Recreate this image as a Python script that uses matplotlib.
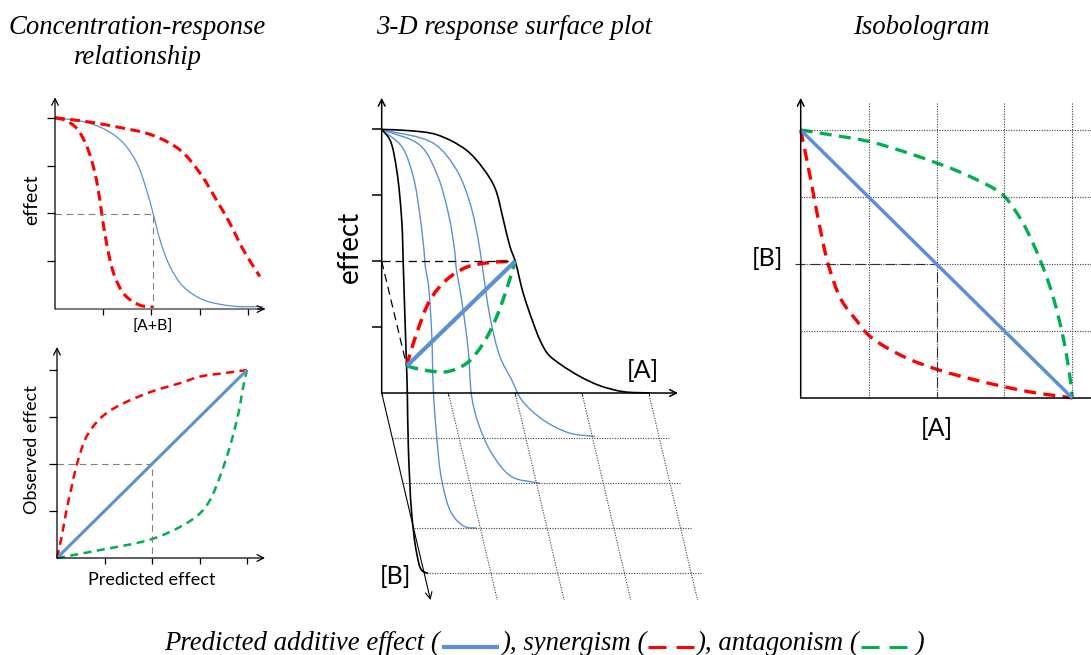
import matplotlib
matplotlib.use("Agg")
import matplotlib.pyplot as plt
from matplotlib.path import Path
from matplotlib.patches import PathPatch
from matplotlib.lines import Line2D
import numpy as np

plt.rcParams["font.family"] = ["Lato", "DejaVu Sans"]

W, H = 1091, 655
BLUE = "#5B8FD8"
RED = "#FF0000"
GREEN = "#00B050"
GUIDE = "#808080"
SERIF = "Liberation Serif"

# --- concentration-response: effect vs [A+B]
cr_ticks = [1, 2, 3, 4]
cr_add_x = [0, 0.59, 1.07, 1.42, 1.70, 1.90, 2.04, 2.18, 2.39, 2.66, 3.08, 3.70, 4.32]
cr_add_y = [4.0, 3.92, 3.74, 3.47, 3.05, 2.49, 1.98, 1.44, 0.88, 0.47, 0.19, 0.06, 0.05]
cr_syn_x = [0, 0.21, 0.45, 0.66, 0.83, 0.93, 1.00, 1.11, 1.24, 1.45, 1.76, 2.04]
cr_syn_y = [4.0, 3.95, 3.78, 3.40, 2.84, 2.28, 1.79, 1.17, 0.68, 0.29, 0.08, 0.04]
cr_ant_x = [0, 0.66, 1.28, 2.01, 2.59, 3.01, 3.35, 3.63, 3.91, 4.25]
cr_ant_y = [4.0, 3.92, 3.81, 3.64, 3.33, 2.84, 2.28, 1.79, 1.23, 0.68]
cr_half = (2.04, 1.98)

# --- observed vs predicted effect
op_ticks = [1, 2, 3, 4]
op_add = [0, 4]
op_syn_x = [0, 0.10, 0.20, 0.31, 0.41, 0.62, 0.91, 1.26, 1.99, 2.59, 3.01, 3.57, 4.0]
op_syn_y = [0, 0.46, 1.02, 1.52, 1.96, 2.58, 2.97, 3.22, 3.54, 3.72, 3.86, 3.94, 4.0]
op_ant_x = [0, 0.91, 1.99, 2.66, 3.01, 3.22, 3.43, 3.64, 3.82, 3.92, 4.0]
op_ant_y = [0, 0.17, 0.40, 0.70, 0.95, 1.23, 1.73, 2.37, 3.08, 3.64, 4.0]
op_half = (2, 2)

# --- response surface, drawn on the sheared [A]-effect plane
rs_effect_ticks = [1, 2, 3, 4]
rs_a_ticks = [0, 1, 2, 3, 4]
rs_b_ticks = [1, 2, 3, 4]
rs_b_max = 4.6
rs_shear = 0.159   # sideways shift per unit of [B]
rs_drop = 0.683    # downward shift per unit of [B]
rs_curve_a_x = [0, 0.424, 0.824, 1.263, 1.518, 1.697, 1.822, 1.922, 2.0, 2.121, 2.271,
                2.372, 2.491, 2.671, 2.971, 3.271, 3.62, 4.02]
rs_curve_a_y = [4.0, 3.98, 3.92, 3.69, 3.41, 3.11, 2.63, 2.22, 2.0, 1.51, 1.06,
                0.80, 0.59, 0.44, 0.25, 0.11, 0.02, 0.0]
rs_curve_b_x = [0, 0.124, 0.225, 0.30, 0.324, 0.349, 0.372, 0.384, 0.399, 0.449, 0.524, 0.599, 0.698]
rs_curve_b_y = [4.0, 3.84, 3.38, 2.62, 1.92, 1.11, 0.42, 0.0, -0.815, -1.826, -2.43, -2.69, -2.74]
rs_mix1_x = [0, 0.30, 0.473, 0.574, 0.638, 0.653, 0.698, 0.749, 0.773, 0.824, 0.899, 1.049, 1.248, 1.423]
rs_mix1_y = [4.0, 3.74, 3.28, 2.68, 2.12, 1.92, 1.66, 0.906, 0.046, -0.663, -1.32, -1.83, -2.03, -2.05]
rs_mix2_x = [0, 0.574, 0.824, 0.998, 1.098, 1.113, 1.198, 1.297, 1.348, 1.447, 1.648, 1.948, 2.372]
rs_mix2_y = [4.0, 3.76, 3.33, 2.73, 2.12, 1.92, 1.41, 0.65, -0.056, -0.46, -0.915, -1.27, -1.37]
rs_mix3_x = [0, 0.773, 1.124, 1.323, 1.447, 1.507, 1.622, 1.772, 1.948, 2.097, 2.421, 2.821, 3.196]
rs_mix3_y = [4.0, 3.79, 3.38, 2.88, 2.32, 1.92, 1.16, 0.55, 0.197, -0.106, -0.41, -0.61, -0.66]
rs_level = 2.0
rs_iso_add_x = [0.375, 2.0]
rs_iso_add_y = [0.41, 2.0]
rs_iso_syn_x = [0.375, 0.398, 0.524, 0.724, 0.974, 1.273, 1.622, 2.0]
rs_iso_syn_y = [0.41, 0.50, 0.906, 1.41, 1.72, 1.91, 1.98, 2.0]
rs_iso_ant_x = [0.375, 0.623, 0.974, 1.273, 1.522, 1.723, 1.873, 2.0]
rs_iso_ant_y = [0.41, 0.35, 0.323, 0.451, 0.754, 1.158, 1.58, 2.0]

# --- isobologram: [B] vs [A]
iso_ticks = [1, 2, 3, 4]
iso_add_a = [0, 4]
iso_add_b = [4, 0]
iso_syn_a = [0, 0.14, 0.26, 0.41, 0.60, 0.82, 1.02, 1.51, 2.03, 2.69, 3.38, 3.94, 4.0]
iso_syn_b = [4, 3.30, 2.66, 1.98, 1.46, 1.16, 0.92, 0.62, 0.42, 0.24, 0.09, 0.01, 0]
iso_ant_a = [0, 0.43, 1.00, 1.66, 2.35, 2.89, 3.01, 3.28, 3.55, 3.72, 3.87, 3.97, 4.0]
iso_ant_b = [4, 3.93, 3.83, 3.63, 3.37, 3.10, 3.00, 2.60, 2.00, 1.50, 0.88, 0.28, 0]
iso_half = (2, 2)


def panel(x0, x1, y0, y1, ox, oy, sx, sy):
    """Axes over a pixel box; (0, 0) lands on (ox, oy), sx/sy pixels per unit."""
    ax = fig.add_axes([x0 / W, 1 - y1 / H, (x1 - x0) / W, (y1 - y0) / H])
    ax.set_xlim((x0 - ox) / sx, (x1 - ox) / sx)
    ax.set_ylim((oy - y1) / sy, (oy - y0) / sy)
    ax.axis("off")
    return ax


def smooth_line(ax, xs, ys, **kw):
    # centripetal Catmull-Rom through the points, written as cubic Beziers
    p = np.column_stack([xs, ys]).astype(float)
    d = np.sqrt(np.hypot(*np.diff(p, axis=0).T))
    m = np.zeros_like(p)
    m[0] = (p[1] - p[0]) / d[0]
    m[-1] = (p[-1] - p[-2]) / d[-1]
    for i in range(1, len(p) - 1):
        m[i] = ((p[i] - p[i - 1]) / d[i - 1]
                - (p[i + 1] - p[i - 1]) / (d[i - 1] + d[i])
                + (p[i + 1] - p[i]) / d[i])
    verts, codes = [p[0]], [Path.MOVETO]
    for i in range(len(p) - 1):
        verts += [p[i] + m[i] * d[i] / 3, p[i + 1] - m[i + 1] * d[i] / 3, p[i + 1]]
        codes += [Path.CURVE4] * 3
    ax.add_patch(PathPatch(Path(verts, codes), fill=False, **kw))


def arrow(ax, start, end, color="black", lw=0.9):
    ax.annotate("", xy=end, xytext=start,
                arrowprops=dict(arrowstyle="->", color=color, lw=lw,
                                shrinkA=0, shrinkB=0, mutation_scale=12))


def ftext(x, y, s, **kw):
    return fig.text(x / W, 1 - y / H, s, **kw)


fig = plt.figure(figsize=(W / 100, H / 100), dpi=100)

# ---------- concentration-response ----------
ax = panel(38, 275, 88, 318, 55, 309, 48.2, 47.8)
ax.plot([0, 4.36], [0, 0], color="#7F7F7F", lw=1.5, solid_capstyle="butt")
arrow(ax, (4.2, 0), (4.36, 0))
arrow(ax, (0, 0), (0, 4.43))
ax.plot([0] * 4, cr_ticks, ls="none", marker=0, ms=6, mew=0.9, color="black")
ax.plot(cr_ticks, [0] * 4, ls="none", marker=3, ms=4.5, mew=0.9, color="black")
ax.plot([0, cr_half[0], cr_half[0]], [cr_half[1], cr_half[1], 0],
        color=GUIDE, lw=0.8, ls=(0, (6, 4)))
smooth_line(ax, cr_add_x, cr_add_y, color=BLUE, lw=0.9)
smooth_line(ax, cr_syn_x, cr_syn_y, color=RED, lw=2.2, ls=(0, (3.2, 1.8)))
smooth_line(ax, cr_ant_x, cr_ant_y, color=RED, lw=2.2, ls=(0, (3.2, 1.8)))
ftext(32, 200, "effect", rotation=90, ha="center", va="center", fontsize=14)
ftext(153, 327, "[A+B]", ha="center", va="center", fontsize=11.5)

# ---------- observed vs predicted ----------
ax = panel(38, 275, 340, 568, 57, 558, 47.5, 47)
arrow(ax, (0, 0), (4.38, 0))
arrow(ax, (0, 0), (0, 4.49))
ax.plot([0] * 4, op_ticks, ls="none", marker=0, ms=6, mew=0.9, color="black")
ax.plot(op_ticks, [0] * 4, ls="none", marker=3, ms=4.5, mew=0.9, color="black")
ax.plot([0, op_half[0], op_half[0]], [op_half[1], op_half[1], 0],
        color=GUIDE, lw=0.8, ls=(0, (6, 4)))
ax.plot(op_add, op_add, color=BLUE, lw=2.2, solid_capstyle="butt")
smooth_line(ax, op_syn_x, op_syn_y, color=RED, lw=1.8, ls=(0, (3.2, 2.2)))
smooth_line(ax, op_ant_x, op_ant_y, color=GREEN, lw=1.8, ls=(0, (3.2, 2.2)))
ftext(32, 450, "Observed effect", rotation=90, ha="center", va="center", fontsize=13)
ftext(152, 580, "Predicted effect", ha="center", va="center", fontsize=13)

# ---------- 3-D response surface ----------
ax = panel(330, 720, 90, 610, 381.7, 393, 66.75, 65.9)
dot = dict(color="#404040", lw=0.8, ls=(0, (1, 1.3)))
for b in rs_b_ticks:
    ax.plot([rs_shear * b, 4.15 + rs_shear * b], [-rs_drop * b] * 2, **dot)
for a in rs_a_ticks[1:]:
    ax.plot([a, a + rs_shear * rs_b_max], [0, -rs_drop * rs_b_max], **dot)
arrow(ax, (0, 0), (rs_shear * rs_b_max, -rs_drop * rs_b_max), lw=0.8)
arrow(ax, (0, 0), (4.44, 0), lw=1.1)
arrow(ax, (0, 0), (0, 4.48), lw=1.1)
ax.plot([0] * 4, rs_effect_ticks, ls="none", marker=0, ms=7.5, mew=1.1, color="black")
ax.plot(rs_a_ticks, [0] * 5, ls="none", marker=3, ms=2.5, mew=0.8, color="#404040")
for xs, ys in [(rs_mix1_x, rs_mix1_y), (rs_mix2_x, rs_mix2_y), (rs_mix3_x, rs_mix3_y)]:
    smooth_line(ax, xs, ys, color=BLUE, lw=1.0)
smooth_line(ax, rs_curve_a_x, rs_curve_a_y, color="black", lw=1.2)
smooth_line(ax, rs_curve_b_x, rs_curve_b_y, color="black", lw=1.2)
ax.plot([0, rs_iso_add_x[1]], [rs_level, rs_level], color="black", lw=0.9, ls=(0, (6.5, 4)))
ax.plot([0, rs_iso_add_x[0]], [rs_level, rs_iso_add_y[0]], color="black", lw=0.9, ls=(0, (6.5, 4)))
smooth_line(ax, rs_iso_syn_x, rs_iso_syn_y, color=RED, lw=2.5, ls=(0, (3.4, 2.0)))
smooth_line(ax, rs_iso_ant_x, rs_iso_ant_y, color=GREEN, lw=2.5, ls=(0, (3.4, 2.0)))
ax.plot(rs_iso_add_x, rs_iso_add_y, color=BLUE, lw=3.0, solid_capstyle="butt")
ftext(350, 247, "effect", rotation=90, ha="center", va="center", fontsize=20)
ftext(643, 370, "[A]", ha="center", va="center", fontsize=18)
ftext(395, 577, "[B]", ha="center", va="center", fontsize=18)

# ---------- isobologram ----------
ax = panel(740, 1091, 90, 410, 800.7, 398, 67.9, 67)
for a in iso_ticks:
    ax.plot([a, a], [0, 4.4], **dot)
for b in iso_ticks:
    ax.plot([0, 4.4], [b, b], **dot)
ax.plot([0, 4.4], [0, 0], color="black", lw=1.1)
arrow(ax, (0, 0), (0, 4.48), lw=1.1)
ax.plot([-0.08, iso_half[0], iso_half[0]], [iso_half[1], iso_half[1], 0],
        color="#303030", lw=0.8, ls=(0, (9, 4.5)))
ax.plot(iso_add_a, iso_add_b, color=BLUE, lw=2.5, solid_capstyle="butt")
smooth_line(ax, iso_syn_a, iso_syn_b, color=RED, lw=2.4, ls=(0, (3.6, 2.2)))
smooth_line(ax, iso_ant_a, iso_ant_b, color=GREEN, lw=2.4, ls=(0, (3.6, 2.2)))
ftext(767, 259, "[B]", ha="center", va="center", fontsize=18)
ftext(937, 429, "[A]", ha="center", va="center", fontsize=18)

# ---------- titles ----------
title_kw = dict(family=SERIF, style="italic", fontsize=19.3, ha="center", va="center")
ftext(137.5, 27, "Concentration-response", **title_kw)
ftext(137.5, 58, "relationship", **title_kw)
ftext(514, 27, "3-D response surface plot", **title_kw)
ftext(921, 27, "Isobologram", **title_kw)

# ---------- caption with inline line samples ----------
parts = ["Predicted additive effect (", "), synergism (", "), antagonism (", " )"]
samples = [dict(color=BLUE, lw=3.0, ls="-", solid_capstyle="butt"),
           dict(color=RED, lw=2.2, ls=(0, (5.9, 3.3))),
           dict(color=GREEN, lw=2.2, ls=(0, (5.9, 3.3)))]
sample_w = [57, 46, 46]
gap = 2
base_y = 650
renderer = fig.canvas.get_renderer()
texts = [ftext(0, base_y, s, family=SERIF, style="italic", fontsize=19.3,
               ha="left", va="baseline") for s in parts]
widths = [t.get_window_extent(renderer).width for t in texts]
total = sum(widths) + sum(sample_w) + 2 * gap * len(sample_w)
x = 544.5 - total / 2
for i, t in enumerate(texts):
    t.set_x(x / W)
    x += widths[i]
    if i < len(samples):
        x += gap
        fig.add_artist(Line2D([x / W, (x + sample_w[i]) / W],
                              [1 - (base_y - 3) / H] * 2,
                              transform=fig.transFigure, **samples[i]))
        x += sample_w[i] + gap

fig.savefig("out.png", dpi=100)
